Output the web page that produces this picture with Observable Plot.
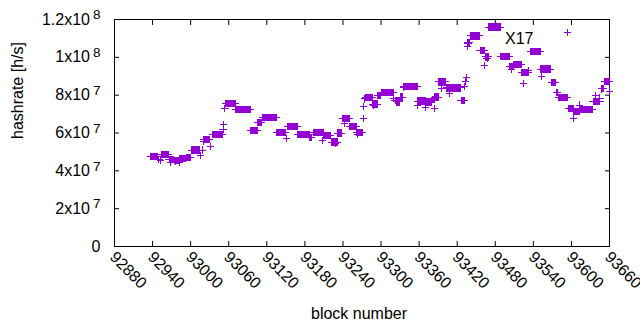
<!DOCTYPE html>
<html><head><meta charset="utf-8">
<script src="https://cdn.jsdelivr.net/npm/d3@7"></script>
<script src="https://cdn.jsdelivr.net/npm/@observablehq/plot@0.6"></script>
<style>
html,body{margin:0;padding:0;background:#fff;}
#chart svg{display:block;}
</style></head><body><div id="chart"></div>
<script>
const seriesName = "X17";
const xLabel = "block number";
const yLabel = "hashrate [h/s]";

// runs of consecutive blocks that share the same hashrate estimate
const runStart = [92937,92954,92966,92974,92982,92993,93002,93021,93034,93055,93071,93095,93106,93113,93136,93153,93169,93188,93194,93210,93222,93232,93239,93251,93262,93275,93287,93295,93300,93324,93330,93336,93358,93371,93381,93385,93391,93403,93426,93436,93441,93456,93464,93470,93489,93503,93509,93522,93536,93552,93568,93576,93579,93595,93604,93614,93634,93647,93652];
const runEnd   = [92948,92965,92973,92981,92992,93000,93014,93029,93050,93070,93094,93105,93112,93135,93150,93168,93187,93191,93209,93221,93231,93238,93250,93261,93271,93286,93294,93299,93319,93329,93334,93357,93370,93380,93384,93390,93402,93425,93431,93440,93455,93463,93469,93488,93502,93508,93521,93532,93551,93567,93575,93578,93594,93603,93612,93633,93645,93651,93660];
const runRate  = [4.75e7,4.85e7,4.60e7,4.55e7,4.65e7,4.70e7,5.10e7,5.65e7,5.90e7,7.55e7,7.25e7,6.12e7,6.55e7,6.82e7,6.03e7,6.35e7,5.92e7,5.78e7,6.02e7,5.85e7,5.52e7,6.00e7,6.77e7,6.35e7,6.02e7,7.87e7,7.53e7,8.00e7,8.13e7,7.64e7,7.90e7,8.47e7,7.69e7,7.64e7,7.75e7,7.90e7,8.70e7,8.38e7,7.73e7,10.80e7,11.13e7,10.34e7,10.02e7,11.60e7,10.05e7,9.53e7,9.60e7,9.18e7,10.31e7,9.38e7,8.67e7,8.15e7,7.89e7,7.30e7,7.15e7,7.25e7,7.66e7,8.35e7,8.74e7];

// isolated blocks
const singleBlock = [92950,92952,92968,92976,92983,93016,93019,93020,93031,93051,93052,93054,93151,93208,93228,93242,93263,93272,93273,93274,93288,93320,93322,93335,93358,93370,93384,93396,93408,93432,93433,93435,93436,93437,93463,93467,93506,93525,93532,93553,93603,93613,93638,93645,93648,93660];
const singleRate  = [4.60e7,4.55e7,4.45e7,4.50e7,4.45e7,4.80e7,5.10e7,5.55e7,5.30e7,6.20e7,6.45e7,7.28e7,5.70e7,5.62e7,5.45e7,6.50e7,5.90e7,6.77e7,7.39e7,7.80e7,7.45e7,7.85e7,7.70e7,8.43e7,7.48e7,7.37e7,7.30e7,8.37e7,8.10e7,8.45e7,8.72e7,8.95e7,10.57e7,10.75e7,9.55e7,9.95e7,9.34e7,8.63e7,9.28e7,8.98e7,6.77e7,7.48e7,7.97e7,7.85e7,8.33e7,8.22e7];

const xTicks = [92880,92940,93000,93060,93120,93180,93240,93300,93360,93420,93480,93540,93600,93660];
const yTicks = [0,2e7,4e7,6e7,8e7,1e8,1.2e8];
const yTickLabels = ["0","2x10^7","4x10^7","6x10^7","8x10^7","1x10^8","1.2x10^8"];

const points = [];
runStart.forEach((s, i) => { for (let b = s; b <= runEnd[i]; b++) points.push({block: b, rate: runRate[i]}); });
singleBlock.forEach((b, i) => points.push({block: b, rate: singleRate[i]}));

const color = "#9400d3";
const font = "'Liberation Sans', Arial, sans-serif";
const fs = 16;
const pr = 2.45;

const chart = Plot.plot({
  width: 640, height: 330,
  marginLeft: 114, marginRight: 31, marginTop: 19, marginBottom: 84,
  style: {fontFamily: font, fontSize: fs + "px", color: "#000", background: "#fff"},
  x: {domain: [92880, 93660], ticks: xTicks},
  y: {domain: [0, 1.2e8], ticks: yTicks},
  marks: [
    Plot.frame({stroke: "#000", strokeWidth: 1}),
    // inward tick marks on all four sides
    Plot.axisY(yTicks, {anchor: "left", tickSize: 5, dx: 5, tickFormat: () => "", label: null, stroke: "#000"}),
    Plot.axisY(yTicks, {anchor: "right", tickSize: 5, dx: -5, tickFormat: () => "", label: null, stroke: "#000"}),
    Plot.axisX(xTicks, {anchor: "bottom", tickSize: 5, dy: -5, tickFormat: () => "", label: null, stroke: "#000"}),
    Plot.axisX(xTicks, {anchor: "top", tickSize: 5, dy: 5, tickFormat: () => "", label: null, stroke: "#000"}),
    // tick labels
    Plot.axisY(yTicks, {anchor: "left", tickSize: 0, tickPadding: 14, label: null, fontSize: fs,
      tickFormat: d => yTickLabels[yTicks.indexOf(d)]}),
    Plot.axisX(xTicks, {anchor: "bottom", tickSize: 0, tickPadding: 8, tickRotate: 45, label: null, fontSize: fs, dx: -2,
      tickFormat: d => String(d)}),
    // axis titles
    Plot.text([xLabel], {frameAnchor: "bottom", text: d => d, dx: -3, dy: 72, fontSize: fs}),
    Plot.text([yLabel], {frameAnchor: "left", text: d => d, rotate: -90, dx: -97, dy: 6, fontSize: fs}),
    // data
    Plot.dot(points, {x: "block", y: "rate", symbol: "plus", r: pr, stroke: color, fill: "none", strokeWidth: 1, shapeRendering: "crispEdges"}),
    // key
    Plot.text([seriesName], {frameAnchor: "top-right", text: d => d, textAnchor: "end", dx: -76, dy: 13, fontSize: fs}),
    Plot.dot([seriesName], {frameAnchor: "top-right", dx: -42, dy: 13, symbol: "plus", r: pr, stroke: color, fill: "none", strokeWidth: 1, shapeRendering: "crispEdges"})
  ]
});

chart.querySelectorAll('g[aria-label="y-axis tick label"] text').forEach(t => {
  const s = t.textContent;
  const k = s.indexOf("^");
  if (k < 0) return;
  t.textContent = s.slice(0, k);
  const sup = document.createElementNS("http://www.w3.org/2000/svg", "tspan");
  sup.setAttribute("dy", "-0.4em");
  sup.setAttribute("dx", "3");
  sup.setAttribute("font-size", "0.85em");
  sup.textContent = s.slice(k + 1);
  t.appendChild(sup);
});

document.getElementById("chart").appendChild(chart);
</script>
</body></html>
